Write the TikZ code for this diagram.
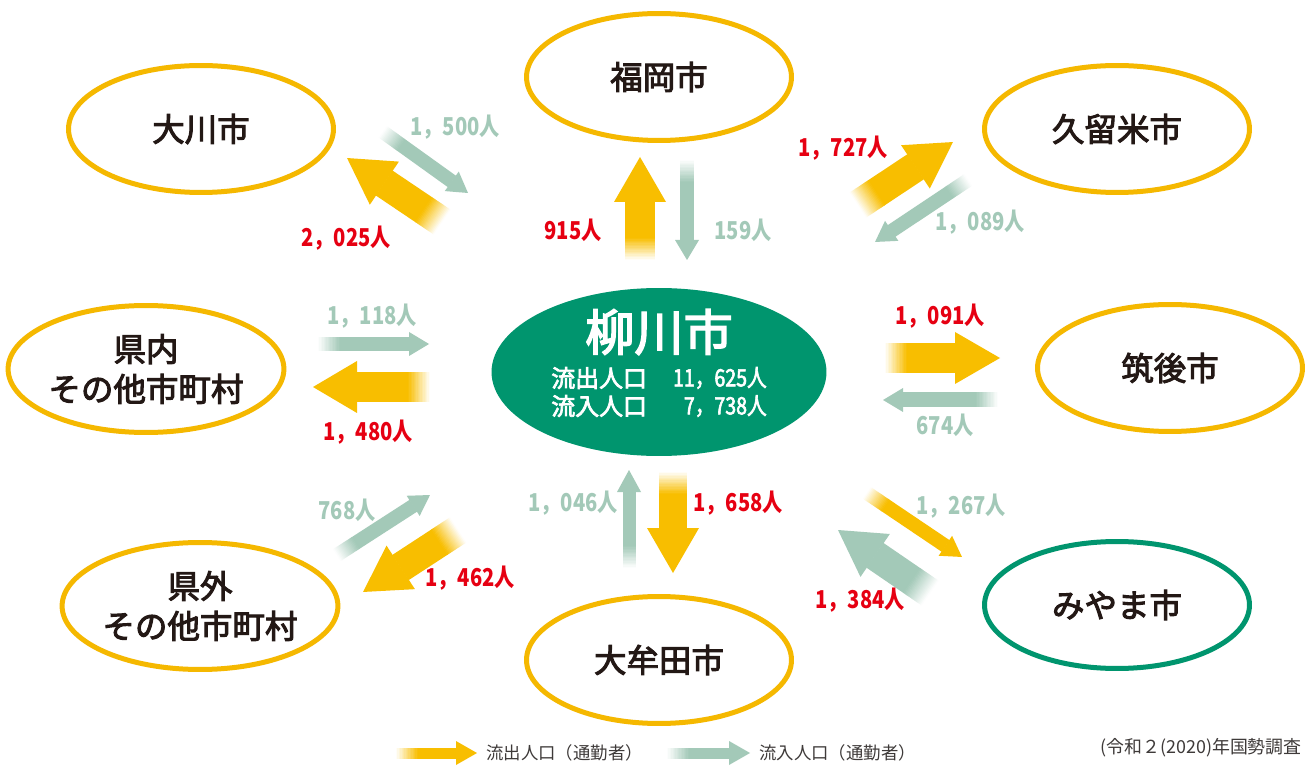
\documentclass[tikz,border=0pt]{standalone}
\usepackage{fontspec}
\usetikzlibrary{shapes.geometric}
\setmainfont{Noto Sans CJK JP}
\newfontfamily\jp{Noto Sans CJK JP}
\newfontfamily\jpm[FakeBold=3]{Noto Sans CJK JP}
\newfontfamily\jpcm[FakeStretch=0.82,FakeBold=2.5]{Noto Sans CJK JP}
\newfontfamily\jpc[FakeStretch=0.82]{Noto Sans CJK JP}
\definecolor{ayel}{HTML}{F8BE00}
\definecolor{ryel}{HTML}{F5B800}
\definecolor{ygrn}{HTML}{A3C9B8}
\definecolor{cgrn}{HTML}{00956E}
\definecolor{ered}{HTML}{E60012}
\definecolor{ink}{HTML}{231815}
\definecolor{gink}{HTML}{3E3A39}
% color, x1,y1 (tail), x2,y2 (tip), half shaft, half head, head length
\newcommand{\flowarr}[8]{%
 \pgfmathsetmacro\fang{atan2(#5-#3,#4-#2)}%
 \pgfmathsetmacro\flen{veclen(#4-#2,#5-#3)}%
 \pgfmathsetmacro\fbase{\flen-#8}%
 \def\ffade{22}%
 \begin{scope}[shift={(#2,#3)},rotate=-\fang]
   \fill[#1] (\ffade-0.3,-#6) -- (\fbase+0.4,-#6) -- (\fbase+0.4,#6) -- (\ffade-0.3,#6) -- cycle;
   \fill[#1] (\fbase,-#7) -- (\flen,0) -- (\fbase,#7) -- cycle;
   \foreach \i in {0,...,15}{%
     \pgfmathsetmacro\pc{(\i+0.5)*100/16}%
     \pgfmathsetmacro\xa{\i*\ffade/16}%
     \pgfmathsetmacro\xb{(\i+1)*\ffade/16+0.3}%
     \fill[#1!\pc!white] (\xa,-#6) -- (\xb,-#6) -- (\xb,#6) -- (\xa,#6) -- cycle;}
 \end{scope}}
\begin{document}
\begin{tikzpicture}[x=0.02cm,y=-0.02cm,
  city/.style={ellipse, draw=ryel, line width=0.1cm, minimum width=5.3cm, minimum height=2.54cm, inner sep=0pt,
    font=\jpm\fontsize{18.5}{22.7}\selectfont, text=ink, align=center},
  outlbl/.style={font=\jpc\bfseries\fontsize{14}{16}\selectfont, text=ered, inner sep=0pt},
  inlbl/.style={font=\jpc\bfseries\fontsize{14}{16}\selectfont, text=ygrn, inner sep=0pt},
  ctrtxt/.style={font=\jpm\fontsize{13.6}{15}\selectfont, text=white, inner sep=0pt, anchor=west},
  ctrnum/.style={font=\jpcm\fontsize{13.6}{15}\selectfont, text=white, inner sep=0pt, anchor=east},
  legtxt/.style={font=\jp\fontsize{9.9}{11}\selectfont, text=gink, inner sep=0pt, anchor=west}]
\clip (0,0) rectangle (1311,776);
\fill[white] (0,0) rectangle (1311,776);
% cities
\node[city] (fukuoka) at (659,77) {福岡市};
\node[city] (okawa) at (201,129) {大川市};
\node[city] (kurume) at (1117,129) {久留米市};
\node[city] (kennai) at (146,369) {県内\\その他市町村};
\node[city] (chikugo) at (1170,368) {筑後市};
\node[city] (kengai) at (200,606) {県外\\その他市町村};
\node[city] (omuta) at (659,660) {大牟田市};
\node[city, draw=cgrn] (miyama) at (1117,605) {みやま市};
% center
\node[ellipse, fill=cgrn, minimum width=6.7cm, minimum height=3.36cm, inner sep=0pt] (yanagawa) at (659,372) {};
\node[font=\jpm\fontsize{28}{30}\selectfont, text=white, inner sep=0pt] (yname) at (659,332) {柳川市};
\node[ctrtxt] (yout) at (551,378) {流出人口};
\node[ctrnum] (youtn) at (767,378) {11，625人};
\node[ctrtxt] (yin) at (551,406) {流入人口};
\node[ctrnum] (yinn) at (767,406) {7，738人};
% arrows
\flowarr{ayel}{442}{222}{347}{158}{15}{26}{45}
\flowarr{ygrn}{383}{132}{468}{193}{7}{12}{20}
\flowarr{ayel}{640}{260}{640}{157}{15}{26}{45}
\flowarr{ygrn}{687}{160}{687}{260}{7}{12}{20}
\flowarr{ayel}{858}{205}{953}{142}{15}{26}{45}
\flowarr{ygrn}{968}{180}{875}{242}{7}{12}{20}
\flowarr{ygrn}{318}{344}{429}{344}{7}{12}{20}
\flowarr{ayel}{430}{387}{313}{387}{15}{26}{44}
\flowarr{ayel}{885}{358}{1000}{358}{15}{26}{45}
\flowarr{ygrn}{998}{400}{883}{400}{7.5}{12}{20}
\flowarr{ygrn}{337}{555}{430}{495}{7}{12}{20}
\flowarr{ayel}{458}{530}{363}{592}{15}{26}{45}
\flowarr{ygrn}{629}{568}{629}{470}{6.5}{12}{22}
\flowarr{ayel}{673}{472}{673}{573}{14}{26}{45}
\flowarr{ayel}{867}{493}{962}{557}{7}{12}{20}
\flowarr{ygrn}{930}{593}{838}{530}{15}{26}{45}
% labels
\node[inlbl] (l1) at (455,127) {1，500人};
\node[outlbl] (l2) at (346,238) {2，025人};
\node[outlbl] (l3) at (573,230) {915人};
\node[inlbl] (l4) at (743,230) {159人};
\node[outlbl] (l5) at (843,148) {1，727人};
\node[inlbl] (l6) at (980,222) {1，089人};
\node[inlbl] (l7) at (372,316) {1，118人};
\node[outlbl] (l8) at (368,432) {1，480人};
\node[outlbl] (l9) at (940,316) {1，091人};
\node[inlbl] (l10) at (945,425) {674人};
\node[inlbl] (l11) at (347,510) {768人};
\node[outlbl] (l12) at (470,578) {1，462人};
\node[inlbl] (l13) at (573,503) {1，046人};
\node[outlbl] (l14) at (738,503) {1，658人};
\node[inlbl] (l15) at (961,506) {1，267人};
\node[outlbl] (l16) at (860,600) {1，384人};
% legend
\flowarr{ayel}{396}{753}{477}{753}{5.5}{12}{21}
\node[legtxt] (leg1) at (486,753) {流出人口（通勤者）};
\flowarr{ygrn}{667}{753}{750}{753}{5.5}{12}{21}
\node[legtxt] (leg2) at (759,753) {流入人口（通勤者）};
\node[legtxt, font=\jp\fontsize{10.2}{12}\selectfont] (src) at (1100,748) {(令和２(2020)年国勢調査};
\end{tikzpicture}
\end{document}
